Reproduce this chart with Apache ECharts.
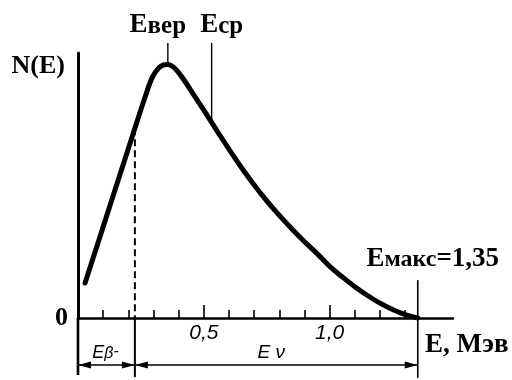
<!DOCTYPE html>
<html>
<head>
<meta charset="utf-8">
<script src="https://cdn.jsdelivr.net/npm/echarts@6/dist/echarts.min.js"></script>
<style>
  html, body { margin: 0; padding: 0; background: #fff; }
  #chart { width: 512px; height: 380px; }
</style>
</head>
<body>
<div id="chart"></div>
<script>
// Beta spectrum N(E): energy in MeV, intensity in relative units
const energy = [0.028, 0.08, 0.13, 0.18, 0.226, 0.266, 0.295, 0.32, 0.34, 0.357, 0.375, 0.395,
                0.42, 0.46, 0.50, 0.531, 0.56, 0.60, 0.65, 0.70, 0.75, 0.80, 0.85, 0.90, 0.95,
                1.00, 1.05, 1.10, 1.15, 1.20, 1.25, 1.30, 1.35];
const intensity = [0.132, 0.285, 0.433, 0.580, 0.716, 0.832, 0.908, 0.943, 0.955, 0.957, 0.950, 0.932,
                   0.900, 0.842, 0.784, 0.738, 0.695, 0.637, 0.567, 0.502, 0.442, 0.387, 0.336, 0.288, 0.243,
                   0.195, 0.155, 0.118, 0.085, 0.056, 0.032, 0.013, 0];

// Characteristic energies (MeV)
const splitE = 0.226;   // boundary between E_beta- and E_nu
const peakE = 0.357;    // most probable energy
const meanE = 0.531;    // mean energy
const maxE = 1.35;      // end-point energy

// Axis ticks
const minorTicks = [0.1, 0.2, 0.3, 0.4, 0.6, 0.7, 0.8, 0.9, 1.1, 1.2, 1.3];
const majorTicks = [0.5, 1.0];
const tickLabels = ['0,5', '1,0'];

// Guide lines: [energy, upper N, lower N]
const guideRows = [
  [peakE, 1.038, 0.957],
  [meanE, 1.038, 0.738],
  [splitE, 0.716, 0],
  [splitE, 0, -0.223],
  [0, 0, -0.215],
  [maxE, 0.143, -0.226]
];
// Dimension arrows: [from E, to E, level N]
const spanRows = [
  [0, splitE, -0.177],
  [splitE, maxE, -0.177]
];
// Label anchors: [E, N]
const labelRows = [
  [peakE, 1.038],
  [meanE, 1.038],
  [maxE, 0.143],
  [splitE / 2, -0.177],
  [(splitE + maxE) / 2, -0.177]
];

const INK = '#000';
const SERIF = '"Liberation Serif", "Times New Roman", serif';
const HAND = '"Liberation Sans Narrow", "Liberation Sans", Arial, sans-serif';

const guideStyles = [
  { lineWidth: 1.4 },
  { lineWidth: 1.4 },
  { lineWidth: 2, lineDash: [7, 4] },
  { lineWidth: 2 },
  { lineWidth: 2.6 },
  { lineWidth: 1.6 }
];

const bold = (size) => ({ fontFamily: SERIF, fontWeight: 'bold', fontSize: size, lineHeight: size, verticalAlign: 'bottom', fill: INK });
const ital = (size) => ({ fontFamily: HAND, fontStyle: 'italic', fontSize: size, lineHeight: size, verticalAlign: 'bottom', fill: INK });

const labelDefs = [
  { text: '{a|E}{b|вер}', dx: -10, dy: -4, rich: { a: bold(27), b: bold(25) } },
  { text: '{a|E}{b|ср}', dx: 10, dy: -4, rich: { a: bold(27), b: bold(25) } },
  { text: '{a|E}{b|макс}{a|=1,35}', dx: 15, dy: -8, rich: { a: bold(27), b: bold(24) } },
  { text: '{a|E}{b|β}{c|-}', dx: -1, dy: -3, rich: { a: ital(18), b: ital(16), c: Object.assign(ital(15), { verticalAlign: 'top' }) } },
  { text: '{a|E ν}', dx: -5, dy: -3, rich: { a: ital(19) } }
];

const chart = echarts.init(document.getElementById('chart'));

chart.setOption({
  backgroundColor: '#fff',
  animation: false,
  grid: { left: 78, right: 59, top: 53, bottom: 62 },
  xAxis: [
    {
      type: 'value', min: 0, max: 1.49, position: 'bottom',
      name: 'E, Мэв', nameLocation: 'end', nameGap: -28,
      nameTextStyle: { fontFamily: SERIF, fontWeight: 'bold', fontSize: 27, color: INK, align: 'left', verticalAlign: 'top', padding: [14, 0, 0, 0] },
      axisLine: { show: true, onZero: false, lineStyle: { color: INK, width: 2.6 } },
      axisTick: { show: true, inside: true, length: 8, customValues: minorTicks, lineStyle: { color: INK, width: 1.6 } },
      axisLabel: { show: false },
      splitLine: { show: false }
    },
    {
      type: 'value', min: 0, max: 1.49, position: 'bottom',
      axisLine: { show: false, onZero: false },
      axisTick: { show: true, inside: true, length: 13, customValues: majorTicks, lineStyle: { color: INK, width: 1.6 } },
      axisLabel: {
        show: true, customValues: majorTicks, margin: 5,
        formatter: (v) => tickLabels[majorTicks.findIndex((t) => Math.abs(t - v) < 1e-9)],
        fontFamily: HAND, fontStyle: 'italic', fontSize: 21, color: INK
      },
      splitLine: { show: false }
    }
  ],
  yAxis: {
    type: 'value', min: 0, max: 1,
    name: 'N(E)', nameLocation: 'end', nameGap: 0,
    nameTextStyle: { fontFamily: SERIF, fontWeight: 'bold', fontSize: 26, color: INK, align: 'right', verticalAlign: 'top', padding: [0, 13, 0, 0] },
    axisLine: { show: true, onZero: false, lineStyle: { color: INK, width: 3 } },
    axisTick: { show: false },
    splitLine: { show: false },
    axisLabel: {
      customValues: [0], formatter: () => '0', margin: 10,
      fontFamily: SERIF, fontWeight: 'bold', fontSize: 26, color: INK
    }
  },
  series: [
    {
      name: 'N(E)',
      type: 'line',
      data: energy.map((e, i) => [e, intensity[i]]),
      smooth: 0.35,
      showSymbol: false,
      clip: false,
      lineStyle: { color: INK, width: 5, cap: 'round', join: 'round' },
      z: 5
    },
    {
      type: 'custom',
      data: guideRows,
      encode: { x: 0, y: [1, 2] },
      clip: false,
      renderItem: (params, api) => {
        const e = api.value(0);
        const p1 = api.coord([e, api.value(1)]);
        const p2 = api.coord([e, api.value(2)]);
        const s = guideStyles[params.dataIndex];
        return {
          type: 'line',
          shape: { x1: p1[0], y1: p1[1], x2: p2[0], y2: p2[1] },
          style: { stroke: INK, lineWidth: s.lineWidth, lineDash: s.lineDash || null }
        };
      },
      z: 3
    },
    {
      type: 'custom',
      data: spanRows,
      encode: { x: [0, 1], y: 2 },
      clip: false,
      renderItem: (params, api) => {
        const a = api.coord([api.value(0), api.value(2)]);
        const b = api.coord([api.value(1), api.value(2)]);
        const len = 13, half = 3.5, y = a[1];
        return {
          type: 'group',
          children: [
            { type: 'line', shape: { x1: a[0], y1: y, x2: b[0], y2: y }, style: { stroke: INK, lineWidth: 1.5 } },
            { type: 'polygon', shape: { points: [[a[0], y], [a[0] + len, y - half], [a[0] + len, y + half]] }, style: { fill: INK } },
            { type: 'polygon', shape: { points: [[b[0], y], [b[0] - len, y - half], [b[0] - len, y + half]] }, style: { fill: INK } }
          ]
        };
      },
      z: 3
    },
    {
      type: 'custom',
      data: labelRows,
      encode: { x: 0, y: 1 },
      clip: false,
      renderItem: (params, api) => {
        const p = api.coord([api.value(0), api.value(1)]);
        const d = labelDefs[params.dataIndex];
        return {
          type: 'text',
          x: p[0] + d.dx,
          y: p[1] + d.dy,
          style: { text: d.text, rich: d.rich, align: 'center', verticalAlign: 'bottom', fill: INK }
        };
      },
      z: 6
    }
  ]
});
</script>
</body>
</html>
